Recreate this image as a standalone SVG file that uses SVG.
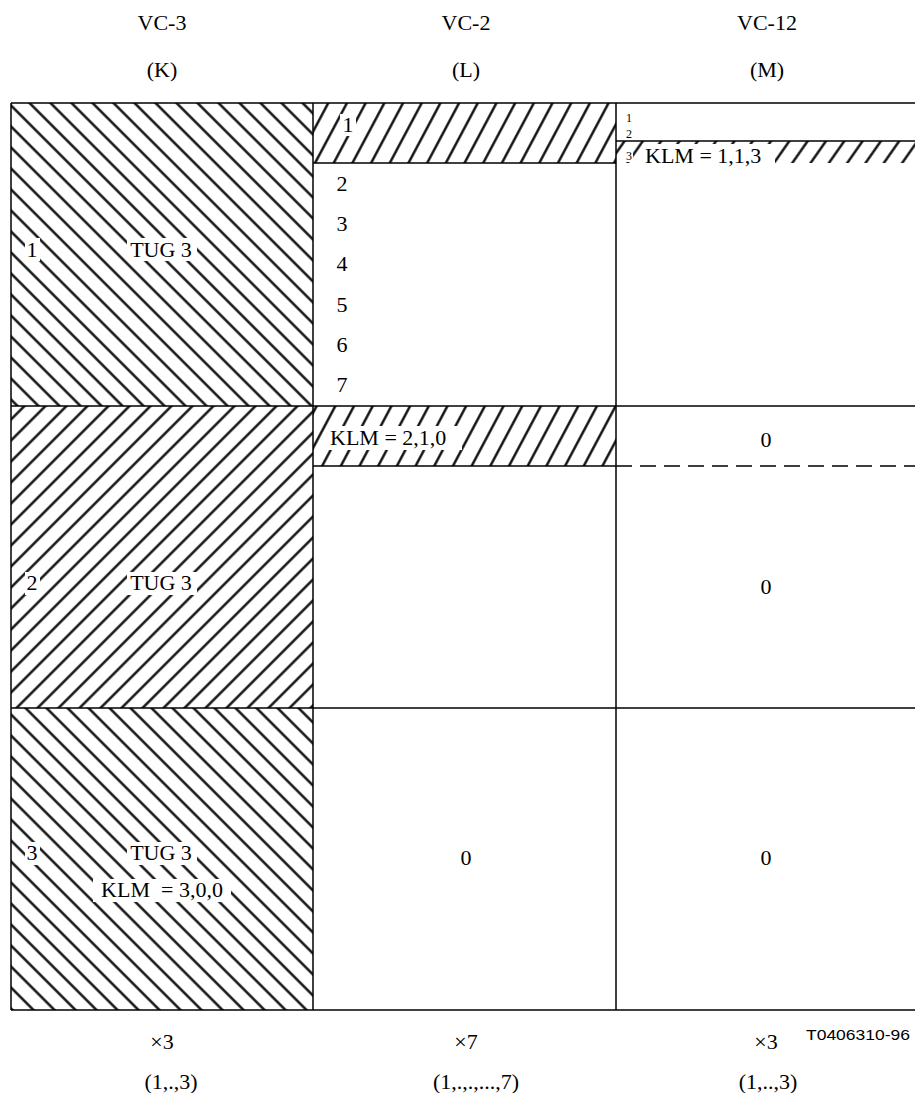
<svg xmlns="http://www.w3.org/2000/svg" width="915" height="1093" viewBox="0 0 915 1093">
<style>
text { font-family: "Liberation Serif", "Times New Roman", serif; font-size: 22px; fill: #000; }
.c { text-anchor: middle; }
.sm { font-size: 12px; }
.code { font-family: "Liberation Sans", Arial, sans-serif; font-size: 15px; }
.ln { stroke: #000; stroke-width: 1.5; fill: none; }
.dash { stroke: #000; stroke-width: 1.5; stroke-dasharray: 16 8; fill: none; }
.ko { fill: #fff; }
</style>
<defs>
<pattern id="back45" patternUnits="userSpaceOnUse" width="10" height="14.85" patternTransform="rotate(45)">
<line x1="-1" y1="7.4" x2="11" y2="7.4" stroke="#000" stroke-width="2.3"/>
</pattern>
<pattern id="fwd45" patternUnits="userSpaceOnUse" width="10" height="14.85" patternTransform="rotate(-45)">
<line x1="-1" y1="7.4" x2="11" y2="7.4" stroke="#000" stroke-width="2.3"/>
</pattern>
<pattern id="fwd67" patternUnits="userSpaceOnUse" width="10" height="16.5" patternTransform="rotate(-62)">
<line x1="-1" y1="8.2" x2="11" y2="8.2" stroke="#000" stroke-width="2.3"/>
</pattern>
<pattern id="fwd60" patternUnits="userSpaceOnUse" width="10" height="15" patternTransform="rotate(-55)">
<line x1="-1" y1="7.5" x2="11" y2="7.5" stroke="#000" stroke-width="2.3"/>
</pattern>
</defs>

<g id="headers">
<text class="c" x="162" y="30">VC-3</text>
<text class="c" x="162" y="77">(K)</text>
<text class="c" x="466" y="30">VC-2</text>
<text class="c" x="466" y="77">(L)</text>
<text class="c" x="767" y="30">VC-12</text>
<text class="c" x="767" y="77">(M)</text>
</g>

<g id="tug3-1">
<rect x="11" y="103" width="302" height="303" fill="url(#back45)"/>
<rect class="ko" x="25" y="238" width="15" height="23"/>
<rect class="ko" x="127" y="238" width="70" height="23"/>
<text class="c" x="32" y="257">1</text>
<text class="c" x="161" y="257">TUG 3</text>
</g>

<g id="tug3-2">
<rect x="11" y="406" width="302" height="302" fill="url(#fwd45)"/>
<rect class="ko" x="25" y="572" width="15" height="23"/>
<rect class="ko" x="127" y="572" width="70" height="23"/>
<text class="c" x="32" y="590">2</text>
<text class="c" x="161" y="590">TUG 3</text>
</g>

<g id="tug3-3">
<rect x="11" y="708" width="302" height="302" fill="url(#back45)"/>
<rect class="ko" x="25" y="842" width="15" height="23"/>
<rect class="ko" x="127" y="842" width="70" height="23"/>
<rect class="ko" x="93" y="879" width="138" height="23"/>
<text class="c" x="32" y="860">3</text>
<text class="c" x="161" y="860">TUG 3</text>
<text class="c" x="162" y="897" xml:space="preserve">KLM  = 3,0,0</text>
</g>

<g id="vc2-col1">
<rect x="313" y="103" width="303" height="60" fill="url(#fwd67)"/>
<rect class="ko" x="340" y="114" width="16" height="22"/>
<text class="c" x="348" y="132">1</text>
<text class="c" x="342" y="191">2</text>
<text class="c" x="342" y="231">3</text>
<text class="c" x="342" y="271">4</text>
<text class="c" x="342" y="312">5</text>
<text class="c" x="342" y="352">6</text>
<text class="c" x="342" y="392">7</text>
</g>

<g id="vc2-col2">
<rect x="313" y="406" width="303" height="60" fill="url(#fwd67)"/>
<rect class="ko" x="327" y="426" width="135" height="24"/>
<text x="330" y="445">KLM = 2,1,0</text>
</g>

<g id="vc2-col3">
<text class="c" x="466" y="865">0</text>
</g>

<g id="vc12-col1">
<rect x="616" y="141" width="299" height="22" fill="url(#fwd60)"/>
<rect class="ko" x="623" y="149" width="10" height="13"/>
<rect class="ko" x="642" y="144" width="133" height="19"/>
<text class="sm" x="626" y="122">1</text>
<text class="sm" x="626" y="138">2</text>
<text class="sm" x="626" y="160">3</text>
<text x="645" y="163">KLM = 1,1,3</text>
</g>

<g id="vc12-col2">
<text class="c" x="766" y="447">0</text>
<text class="c" x="766" y="594">0</text>
</g>

<g id="vc12-col3">
<text class="c" x="766" y="865">0</text>
</g>

<g id="grid">
<line class="ln" x1="11" y1="103" x2="915" y2="103"/>
<line class="ln" x1="11" y1="1010" x2="915" y2="1010"/>
<line class="ln" x1="11" y1="103" x2="11" y2="1010"/>
<line class="ln" x1="313" y1="103" x2="313" y2="1010"/>
<line class="ln" x1="616" y1="103" x2="616" y2="1010"/>
<line class="ln" x1="11" y1="406" x2="915" y2="406"/>
<line class="ln" x1="11" y1="708" x2="915" y2="708"/>
<line class="ln" x1="313" y1="163" x2="616" y2="163"/>
<line class="ln" x1="616" y1="141" x2="915" y2="141"/>
<line class="ln" x1="313" y1="466" x2="616" y2="466"/>
<line class="dash" x1="616" y1="466" x2="915" y2="466"/>
</g>

<g id="footer">
<text class="c" x="162" y="1049">×3</text>
<text class="c" x="466" y="1049">×7</text>
<text class="c" x="766" y="1049">×3</text>
<text class="code" x="806" y="1040" textLength="104" lengthAdjust="spacingAndGlyphs">T0406310-96</text>
<text class="c" x="171" y="1089">(1,.,3)</text>
<text class="c" x="476" y="1089">(1,.,.,...,7)</text>
<text class="c" x="768" y="1089">(1,..,3)</text>
</g>
</svg>
